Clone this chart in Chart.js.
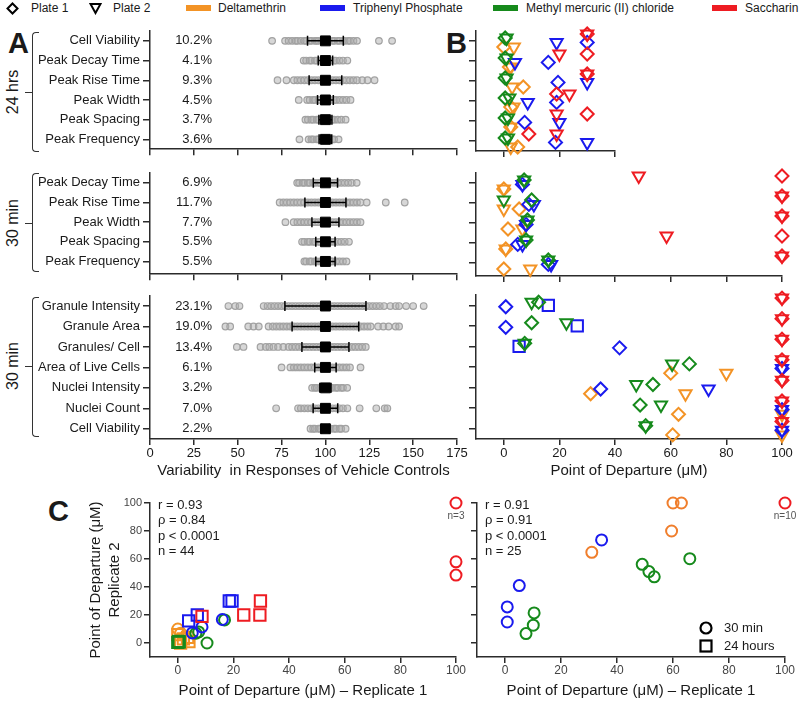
<!DOCTYPE html>
<html>
<head>
<meta charset="utf-8">
<title>Vehicle control variability and points of departure</title>
<script src="https://cdn.jsdelivr.net/npm/chart.js@4.4.1/dist/chart.umd.min.js"></script>
<style>
  body { margin: 0; background: #fff; font-family: Arial, "Liberation Sans", sans-serif; color: #1a1a1a; }
  #page { position: relative; width: 800px; height: 701px; overflow: hidden; }
  canvas { position: absolute; }
  .big { position: absolute; font-weight: bold; font-size: 29px; line-height: 29px; }
  .lg { position: absolute; top: 1px; font-size: 12px; line-height: 14px; white-space: nowrap; }
  .bar { position: absolute; top: 5px; width: 25px; height: 6px; }
  .brk { position: absolute; left: 32px; width: 6px; border: 1.5px solid #333; border-right: none; border-radius: 4px 0 0 4px; }
  .tick { position: absolute; left: 25px; width: 7px; border-top: 1.5px solid #333; }
  .grp { position: absolute; left: 13px; width: 70px; text-align: center; font-size: 16px; line-height: 16px;
         transform: translate(-50%, -50%) rotate(-90deg); white-space: nowrap; }
</style>
</head>
<body>
<div id="page">
  <!-- legend -->
  <svg style="position:absolute;left:6px;top:2px" width="13" height="13"><path d="M6.5 1.5 L11.5 6.5 L6.5 11.5 L1.5 6.5 Z" fill="none" stroke="#000" stroke-width="2"/></svg>
  <div class="lg" style="left:31px">Plate 1</div>
  <svg style="position:absolute;left:89px;top:2px" width="13" height="13"><path d="M1.5 2 L11.5 2 L6.5 11 Z" fill="none" stroke="#000" stroke-width="2"/></svg>
  <div class="lg" style="left:113px">Plate 2</div>
  <div class="bar" style="left:186px;background:#f39325"></div>
  <div class="lg" style="left:218px">Deltamethrin</div>
  <div class="bar" style="left:320px;background:#1a1aee"></div>
  <div class="lg" style="left:353px">Triphenyl Phosphate</div>
  <div class="bar" style="left:493px;background:#168a1c"></div>
  <div class="lg" style="left:526px">Methyl mercuric (II) chloride</div>
  <div class="bar" style="left:712px;background:#ee1c22"></div>
  <div class="lg" style="left:745px">Saccharin</div>

  <div class="big" style="left:8px;top:29px">A</div>
  <div class="big" style="left:446px;top:29px">B</div>
  <div class="big" style="left:48px;top:497px">C</div>

  <div class="brk" style="top:32px;height:118px"></div><div class="tick" style="top:92px"></div>
  <div class="grp" style="top:92px">24 hrs</div>
  <div class="brk" style="top:173px;height:97px"></div><div class="tick" style="top:223px"></div>
  <div class="grp" style="top:223px">30 min</div>
  <div class="brk" style="top:297px;height:138px"></div><div class="tick" style="top:366px"></div>
  <div class="grp" style="top:366px">30 min</div>

  <canvas id="a1" width="470" height="140" style="left:0;top:20px"></canvas>
  <canvas id="a2" width="470" height="125" style="left:0;top:160px"></canvas>
  <canvas id="a3" width="470" height="195" style="left:0;top:285px"></canvas>
  <canvas id="b1" width="170" height="140" style="left:460px;top:20px"></canvas>
  <canvas id="b2" width="340" height="125" style="left:460px;top:160px"></canvas>
  <canvas id="b3" width="340" height="195" style="left:460px;top:285px"></canvas>
  <canvas id="c1" width="395" height="211" style="left:80px;top:490px"></canvas>
  <canvas id="c2" width="340" height="211" style="left:460px;top:490px"></canvas>
</div>
<script>
// ---------- data ----------
const aTicks = [0, 25, 50, 75, 100, 125, 150, 175];
const bTicks24 = [0, 20, 40];
const bTicks = [0, 20, 40, 60, 80, 100];
const cTicks = [0, 20, 40, 60, 80, 100];

const rows24 = ['Cell Viability', 'Peak Decay Time', 'Peak Rise Time', 'Peak Width', 'Peak Spacing', 'Peak Frequency'];
const rowsCa = ['Peak Decay Time', 'Peak Rise Time', 'Peak Width', 'Peak Spacing', 'Peak Frequency'];
const rowsHci = ['Granule Intensity', 'Granule Area', 'Granules/ Cell', 'Area of Live Cells', 'Nuclei Intensity', 'Nuclei Count', 'Cell Viability'];

// coefficient of variation (%) of the vehicle controls
const cv24 = [10.2, 4.1, 9.3, 4.5, 3.7, 3.6];
const cvCa = [6.9, 11.7, 7.7, 5.5, 5.5];
const cvHci = [23.1, 19.0, 13.4, 6.1, 3.2, 7.0, 2.2];
const ctrlMean = 100;

// individual vehicle control responses (% of mean)
const ctrl24 = [
  [69.6, 77, 79, 81, 83, 84, 86, 88, 89, 91, 92, 94, 95, 96, 98, 99, 101, 102, 104, 105, 107, 108, 110, 111, 113, 114, 116, 118, 130.5, 138],
  [87.6, 89, 91, 92, 94, 95, 97, 98, 99, 101, 102, 103, 105, 106, 108, 110, 112.5],
  [72.7, 77.8, 82, 84, 86, 88, 90, 92, 94, 96, 98, 100, 102, 104, 106, 108, 110, 112, 114, 116, 118, 121, 124, 128],
  [84.8, 89.6, 91, 93, 94, 96, 97, 99, 100, 102, 103, 105, 106, 108, 110, 112, 114.3],
  [88.6, 90, 92, 93, 95, 96, 98, 99, 101, 102, 104, 105, 107, 109, 111.5],
  [85.2, 90.4, 92, 93, 95, 96, 98, 99, 101, 102, 104, 105, 107.5]
];
const ctrlCa = [
  [83.9, 85, 87, 88, 90, 91, 93, 94, 96, 97, 99, 100, 102, 103, 105, 107, 109, 111, 113, 115, 117.8],
  [73.9, 76, 78, 80, 82, 84, 86, 88, 90, 92, 94, 96, 98, 100, 102, 104, 106, 108, 110, 112, 114, 116, 118, 120, 123.5, 134.4, 145.2],
  [77.2, 81.9, 84, 86, 88, 90, 92, 94, 96, 98, 100, 102, 104, 106, 108, 110, 112, 114, 116, 118, 120],
  [86.7, 88, 90, 91, 93, 94, 96, 97, 99, 100, 102, 103, 105, 107, 109, 111, 113.4],
  [88, 89, 91, 92, 94, 95, 97, 98, 100, 101, 103, 104, 106, 108, 110, 112]
];
const ctrlHci = [
  [44.7, 48.6, 51, 64.8, 67, 69, 71, 73, 75, 77, 79, 81, 83, 85, 87, 89, 91, 93, 95, 97, 99, 101, 103, 105, 107, 109, 111, 113, 115, 117, 119, 121, 123, 125, 127, 129, 131, 133.4, 137, 140, 142, 146, 150, 156],
  [43, 45.7, 56, 59, 62, 67.6, 70, 72, 74, 76, 78, 80, 82, 84, 86, 88, 90, 92, 94, 96, 98, 100, 102, 104, 106, 108, 110, 112, 114, 116, 118, 120, 122, 124, 125.8, 130, 133, 136, 140, 142],
  [49.5, 53.3, 63, 66, 68, 70.4, 73, 76, 79, 81, 83, 85, 87, 89, 91, 93, 95, 97, 99, 101, 103, 105, 107, 109, 111, 113, 115, 117, 119, 121, 123],
  [75, 80, 82, 84, 86, 88, 90, 92, 94, 96, 98, 100, 102, 104, 106, 108, 110, 112, 114, 120],
  [92.4, 94, 95, 97, 98, 100, 101, 103, 104, 106, 107, 109, 110, 112.4],
  [71.9, 84.4, 86, 88, 90, 92, 94, 96, 98, 100, 102, 104, 106, 108, 110, 112.5, 119.5, 129, 133.8, 135.3],
  [91.5, 93, 94, 96, 97, 99, 100, 102, 103, 105, 106, 108, 109, 111.5]
];

// point of departure (uM) per row: [plate 1, plate 2]
const pod24Delta = [[0, 3.6], [2, 2.5], [7, 3], [2.5, 3.5], [2.5, 2.5], [5, 2.5]];
const pod24Tpp = [[30, 19], [16, 4], [19.5, 30], [19, 8.6], [7.5, 20], [18.6, 30]];
const pod24Mmc = [[0.5, 1], [0.5, 1], [0.5, 1], [0.5, 2], [0.5, 1.5], [0.5, 1.5]];
const pod24Sacc = [[30, 30], [30, 20], [30, 30], [19, 23.6], [30, 19], [9, 19]];

const podCaDelta = [[0, 0], [5.5, 0], [1.5, 6.7], [0.7, 0.7], [0, 9.5]];
const podCaTpp = [[6.7, 6.7], [9, 10.8], [8, 8], [5, 6.7], [16, 17]];
const podCaMmc = [[7.3, 7.3], [10, 0], [8.5, 8.5], [8, 8], [16, 16]];
const podCaSacc = [[100, 48.5], [100, 100], [100, 100], [100, 58.5], [100, 100]];

const podHciDelta = [[null, null], [null, null], [null, null], [60, 80], [31.2, 65.3], [62.8, 100], [60.7, 100]];
const podHciTpp = [[0.7, null], [0.7, null], [41.6, null], [100, 100], [34.8, 73.6], [100, 100], [100, 100]];
const podHciTppExtra = [16, 26.4, 5.5];
const podHciMmc = [[12.5, 10], [10, 22.5], [7.5, 7.5], [66.7, 60.5], [53.6, 47.6], [49, 56.5], [51, 51]];
const podHciSacc = [[100, 100], [100, 100], [100, 100], [100, 100], [100, 100], [100, 100], [100, 100]];

// panel C: [replicate 1, replicate 2]
const repCaMinDelta = [[0, 10], [1, 7]];
const repCaHrDelta = [[0, 6], [2, 3], [4, 1], [3.5, 4], [1, 0]];
const repCaMinTpp = [[5.2, 7.2], [8.7, 11.5], [16, 16.8]];
const repCaHrTpp = [[3.9, 15.8], [7, 20], [18.5, 30], [19.5, 30]];
const repCaMinMmc = [[7.5, 7.9], [6.5, 7], [10.5, 0], [16.8, 16.5]];
const repCaHrMmc = [[0, 0.5], [0.5, 0.8], [0.3, 1.2]];
const repCaMinSacc = [[100, 100], [100, 58], [100, 48.5]];
const repCaHrSacc = [[8.7, 19], [23.7, 20], [29.7, 30], [29.5, 20]];

const repHciDelta = [[60, 100], [63, 100], [59.5, 80], [31, 64.8]];
const repHciTpp = [[34.5, 73.6], [5.1, 41], [0.8, 25.8], [0.8, 15]];
const repHciMmc = [[66, 60.2], [49, 56.2], [51.4, 51], [53.3, 47.3], [10.4, 21.5], [10.1, 12.7], [7.5, 6.7]];
const repHciSacc = [[100, 100]];

const statsCa = ['r = 0.93', 'ρ = 0.84', 'p < 0.0001', 'n = 44'];
const statsHci = ['r = 0.91', 'ρ = 0.91', 'p < 0.0001', 'n = 25'];

// ---------- style ----------
const OR = '#f39325', BL = '#1a1aee', GR = '#168a1c', RD = '#ee1c22';
const AXIS = '#2b2b2b';
const FONT = 'Arial, "Liberation Sans", sans-serif';
Chart.defaults.font.family = FONT;
Chart.defaults.color = '#1a1a1a';

function rowAxis(labels, width, showLabels, maxPad) {
  return {
    type: 'linear', reverse: true, min: -0.5, max: labels.length - 0.5 + maxPad,
    afterBuildTicks: s => { s.ticks = labels.map((_, i) => ({ value: i })); },
    afterFit: s => { s.width = width; },
    ticks: { display: showLabels, autoSkip: false, padding: 3, font: { size: 13 }, callback: v => labels[v] },
    grid: { drawOnChartArea: false, tickLength: 7, color: AXIS, lineWidth: 1.5 },
    border: { color: AXIS, width: 1.5 }
  };
}

function valueAxis(min, max, ticks, height, showLabels, title, size) {
  return {
    type: 'linear', min: min, max: max,
    afterBuildTicks: s => { s.ticks = ticks.map(v => ({ value: v })); },
    afterFit: s => { s.height = height; },
    ticks: { display: showLabels, autoSkip: false, maxRotation: 0, padding: 1, font: { size: size || 13 } },
    grid: { drawOnChartArea: false, tickLength: 6, color: AXIS, lineWidth: 1.5 },
    border: { color: AXIS, width: 1.5 },
    title: { display: !!title, text: title, font: { size: 15 }, padding: { top: 0, bottom: 0 } }
  };
}

const baseOpts = { responsive: false, animation: false, devicePixelRatio: 1,
  plugins: { legend: { display: false }, tooltip: { enabled: false } } };

// ---------- panel A ----------
function aExtras(cv) {
  return {
    id: 'aExtras',
    afterDatasetDraw(chart, args) {
      if (args.index !== 1) return;
      const { ctx, scales: { x, y } } = chart;
      ctx.save();
      ctx.strokeStyle = '#000';
      ctx.lineWidth = 1.5;
      cv.forEach((c, i) => {
        const py = y.getPixelForValue(i);
        const x0 = x.getPixelForValue(ctrlMean - c), x1 = x.getPixelForValue(ctrlMean + c);
        ctx.beginPath();
        ctx.moveTo(x0, py); ctx.lineTo(x1, py);
        ctx.moveTo(x0, py - 5); ctx.lineTo(x0, py + 5);
        ctx.moveTo(x1, py - 5); ctx.lineTo(x1, py + 5);
        ctx.stroke();
      });
      ctx.restore();
    },
    afterDraw(chart) {
      const { ctx, chartArea, scales: { y } } = chart;
      ctx.save();
      ctx.font = '13px ' + FONT;
      ctx.fillStyle = '#1a1a1a';
      ctx.textAlign = 'right';
      ctx.textBaseline = 'middle';
      cv.forEach((c, i) => ctx.fillText(c.toFixed(1) + '%', chartArea.left + 62, y.getPixelForValue(i)));
      ctx.restore();
    }
  };
}

function panelA(id, labels, cv, ctrl, padTop, xHeight, maxPad, showX) {
  const pts = [];
  ctrl.forEach((vals, i) => vals.forEach(v => pts.push({ x: v, y: i })));
  new Chart(document.getElementById(id), {
    type: 'scatter',
    data: { datasets: [
      { data: labels.map((_, i) => ({ x: ctrlMean, y: i })), pointStyle: 'rect', pointRadius: 7,
        pointBackgroundColor: '#000', pointBorderColor: '#000', pointBorderWidth: 1 },
      { data: pts, pointRadius: 3.3, pointBorderWidth: 1.2, pointBorderColor: '#a2a2a2',
        pointBackgroundColor: 'rgba(175,175,175,0.5)' }
    ] },
    options: Object.assign({}, baseOpts, {
      layout: { padding: { top: padTop, right: 13, bottom: 0, left: 0 } },
      scales: {
        x: valueAxis(0, 175, aTicks, xHeight, showX, showX ? 'Variability  in Responses of Vehicle Controls' : ''),
        y: rowAxis(labels, 150, true, maxPad)
      }
    }),
    plugins: [aExtras(cv)]
  });
}

panelA('a1', rows24, cv24, ctrl24, 11, 7, 0, false);
panelA('a2', rowsCa, cvCa, ctrlCa, 13, 8, 0.15, false);
panelA('a3', rowsHci, cvHci, ctrlHci, 10, 41, 0, true);

// ---------- panel B ----------
function bSets(series, extra) {
  const ds = [];
  series.forEach(s => {
    const d1 = [], d2 = [];
    s.pod.forEach((r, i) => {
      if (r[0] !== null) d1.push({ x: r[0], y: i + s.dy });
      if (r[1] !== null) d2.push({ x: r[1], y: i + s.dy });
    });
    ds.push({ data: d1, pointStyle: 'rectRot', pointRadius: 6.5, pointBorderWidth: 2,
      pointBorderColor: s.color, pointBackgroundColor: 'rgba(0,0,0,0)', clip: false });
    ds.push({ data: d2, pointStyle: 'triangle', pointRotation: 180, pointRadius: 7, pointBorderWidth: 2,
      pointBorderColor: s.color, pointBackgroundColor: 'rgba(0,0,0,0)', clip: false });
  });
  if (extra) {
    ds.push({ data: extra.pod.map((v, i) => ({ x: v, y: i + extra.dy })), pointStyle: 'rect', pointRadius: 8,
      pointBorderWidth: 2, pointBorderColor: extra.color, pointBackgroundColor: 'rgba(0,0,0,0)', clip: false });
  }
  return ds;
}

function panelB(id, labels, series, extra, xMax, ticks, rightPad, padTop, xHeight, maxPad, title) {
  new Chart(document.getElementById(id), {
    type: 'scatter',
    data: { datasets: bSets(series, extra) },
    options: Object.assign({}, baseOpts, {
      layout: { padding: { top: padTop, right: rightPad, bottom: 0, left: 0 } },
      scales: {
        x: valueAxis(-10, xMax, ticks, xHeight, !!title, title),
        y: rowAxis(labels, 16, false, maxPad)
      }
    })
  });
}

const dy = { sacc: -0.35, mmc: -0.15, tpp: 0.07, delta: 0.3 };
panelB('b1', rows24, [
  { pod: pod24Sacc, color: RD, dy: dy.sacc }, { pod: pod24Mmc, color: GR, dy: dy.mmc },
  { pod: pod24Tpp, color: BL, dy: dy.tpp }, { pod: pod24Delta, color: OR, dy: dy.delta }
], null, 40, bTicks24, 15, 11, 7, 0, '');
panelB('b2', rowsCa, [
  { pod: podCaSacc, color: RD, dy: dy.sacc }, { pod: podCaMmc, color: GR, dy: dy.mmc },
  { pod: podCaTpp, color: BL, dy: dy.tpp }, { pod: podCaDelta, color: OR, dy: dy.delta }
], null, 100, bTicks, 18, 13, 8, 0.15, '');
panelB('b3', rowsHci, [
  { pod: podHciSacc, color: RD, dy: dy.sacc }, { pod: podHciMmc, color: GR, dy: dy.mmc },
  { pod: podHciTpp, color: BL, dy: dy.tpp }, { pod: podHciDelta, color: OR, dy: dy.delta }
], { pod: podHciTppExtra, color: BL, dy: 0 }, 100, bTicks, 18, 10, 41, 0, 'Point of Departure (μM)');

// ---------- panel C ----------
function cExtras(stats, note, legend) {
  return {
    id: 'cExtras',
    afterDraw(chart) {
      const { ctx, chartArea, scales: { x, y } } = chart;
      ctx.save();
      ctx.fillStyle = '#1a1a1a';
      ctx.font = '13px ' + FONT;
      ctx.textAlign = 'left';
      ctx.textBaseline = 'middle';
      stats.forEach((s, i) => ctx.fillText(s, chartArea.left + 8, chartArea.top + 2 + i * 15.5));
      ctx.fillStyle = '#555';
      ctx.font = '10px ' + FONT;
      ctx.textAlign = 'center';
      ctx.fillText(note, x.getPixelForValue(100), y.getPixelForValue(100) + 13);
      if (legend) {
        const lx = chartArea.right - 79;
        ctx.strokeStyle = '#000';
        ctx.lineWidth = 2.2;
        ctx.beginPath(); ctx.arc(lx, chartArea.bottom - 29, 5.5, 0, Math.PI * 2); ctx.stroke();
        ctx.strokeRect(lx - 5.5, chartArea.bottom - 16.5, 11, 11);
        ctx.fillStyle = '#1a1a1a';
        ctx.font = '13px ' + FONT;
        ctx.textAlign = 'left';
        ctx.fillText('30 min', lx + 18, chartArea.bottom - 29);
        ctx.fillText('24 hours', lx + 18, chartArea.bottom - 11);
      }
      ctx.restore();
    }
  };
}

function cSet(pairs, color, square) {
  return { data: pairs.map(p => ({ x: p[0], y: p[1] })), pointStyle: square ? 'rect' : 'circle',
    pointRadius: square ? 8 : 5.5, pointBorderWidth: 2, pointBorderColor: color,
    pointBackgroundColor: 'rgba(0,0,0,0)', clip: false };
}

function panelC(id, sets, yWidth, showY, rightPad, stats, note, legend) {
  const y = {
    type: 'linear', min: -10, max: 100,
    afterBuildTicks: s => { s.ticks = cTicks.map(v => ({ value: v })); },
    afterFit: s => { s.width = yWidth; },
    ticks: { display: showY, autoSkip: false, padding: 2, color: '#444', font: { size: 11 } },
    grid: { drawOnChartArea: false, tickLength: 6, color: AXIS, lineWidth: 1.5 },
    border: { color: AXIS, width: 1.5 },
    title: { display: showY, text: ['Point of Departure (μM)', 'Replicate 2'], font: { size: 15, lineHeight: 1.3 },
      padding: { top: 6, bottom: 0 } }
  };
  const x = valueAxis(-10, 100, cTicks, 44, true, 'Point of Departure (μM) – Replicate 1', 12);
  x.ticks.color = '#444';
  x.ticks.padding = 0;
  x.title.padding = { top: 0, bottom: 1 };
  new Chart(document.getElementById(id), {
    type: 'scatter',
    data: { datasets: sets },
    options: Object.assign({}, baseOpts, {
      layout: { padding: { top: 13, right: rightPad, bottom: 0, left: 0 } },
      scales: { x: x, y: y }
    }),
    plugins: [cExtras(stats, note, legend)]
  });
}

panelC('c1', [
  cSet(repCaMinSacc, RD), cSet(repCaHrSacc, RD, true),
  cSet(repCaMinTpp, BL), cSet(repCaHrTpp, BL, true),
  cSet(repCaMinMmc, GR), cSet(repCaHrMmc, GR, true),
  cSet(repCaMinDelta, OR), cSet(repCaHrDelta, OR, true)
], 70, true, 19, statsCa, 'n=3', false);

panelC('c2', [
  cSet(repHciSacc, RD), cSet(repHciTpp, BL), cSet(repHciMmc, GR), cSet(repHciDelta, '#f07e2c')
], 17, false, 15, statsHci, 'n=10', true);
</script>
</body>
</html>
